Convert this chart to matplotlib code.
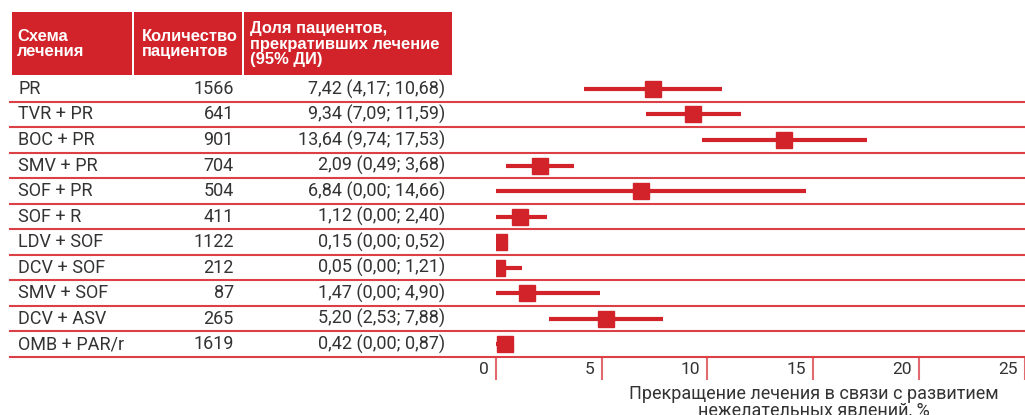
import matplotlib.pyplot as plt
import matplotlib.transforms as mtransforms
from matplotlib.patches import Rectangle
import numpy as np

# Discontinuation due to adverse events, by treatment regimen
regimens = ['PR', 'TVR + PR', 'BOC + PR', 'SMV + PR', 'SOF + PR', 'SOF + R',
            'LDV + SOF', 'DCV + SOF', 'SMV + SOF', 'DCV + ASV', 'OMB + PAR/r']
patients = [1566, 641, 901, 704, 504, 411, 1122, 212, 87, 265, 1619]
rate = [7.42, 9.34, 13.64, 2.09, 6.84, 1.12, 0.15, 0.05, 1.47, 5.20, 0.42]
ci_low = [4.17, 7.09, 9.74, 0.49, 0.00, 0.00, 0.00, 0.00, 0.00, 2.53, 0.00]
ci_high = [10.68, 11.59, 17.53, 3.68, 14.66, 2.40, 0.52, 1.21, 4.90, 7.88, 0.87]
xticks = [0, 5, 10, 15, 20, 25]

headers = ['Схема\nлечения', 'Количество\nпациентов',
           'Доля пациентов,\nпрекративших лечение\n(95% ДИ)']
xlabel = 'Прекращение лечения в связи с развитием\nнежелательных явлений, %'

red = '#d2232a'
line_red = '#dc4046'
tick_red = '#e06a6f'
txt = '#333333'

W, H = 1025, 415
fig = plt.figure(figsize=(W / 100, H / 100), dpi=100)
plt.rcParams['font.family'] = ['Roboto', 'DejaVu Sans']

ax = fig.add_axes([496 / W, 1 - 357 / H, 528.5 / W, 280.8 / H])
n = len(regimens)
y = np.arange(n) + 0.5
ax.set_xlim(0, 25)
ax.set_ylim(n, 0)
for s in ax.spines.values():
    s.set_visible(False)
ax.set_yticks([])
ax.set_xticks(xticks)
ax.tick_params(axis='x', length=16.6, width=1.5, color=tick_red, labelbottom=False)

# confidence intervals and point estimates
ax.hlines(y, ci_low, ci_high, color=red, lw=3)
ax.plot(rate, y, 's', ms=11, color=red)

# row separators across the whole width
trans = mtransforms.blended_transform_factory(fig.transFigure, ax.transData)
for k in range(1, n + 1):
    ax.plot([10 / W, 1], [k, k], transform=trans, clip_on=False,
            color=line_red, lw=1.5)

# table text
for i in range(n):
    ax.text(18 / W, y[i], regimens[i], transform=trans, ha='left', va='center',
            fontsize=13, color=txt)
    ax.text(234 / W, y[i], str(patients[i]), transform=trans, ha='right',
            va='center', fontsize=13, color=txt)
    s = f'{rate[i]:.2f} ({ci_low[i]:.2f}; {ci_high[i]:.2f})'.replace('.', ',')
    ax.text(445 / W, y[i], s, transform=trans, ha='right', va='center',
            fontsize=13, color=txt)

# tick labels sit to the left of each tick
lab_tr = mtransforms.offset_copy(ax.transData, fig=fig, x=-7, y=-12, units='dots')
for t in xticks:
    ax.text(t, n, str(t), transform=lab_tr, ha='right', va='center',
            fontsize=12.5, color=txt)

fig.text(813.5 / W, 1 - 385 / H, xlabel, ha='center', va='top', fontsize=13,
         color=txt, linespacing=0.9)

# header block
cells = [(12, 132), (134, 242), (244, 452)]
text_x = [17, 142, 250]
for (x0, x1), tx, h in zip(cells, text_x, headers):
    fig.add_artist(Rectangle((x0 / W, 1 - 75 / H), (x1 - x0) / W, 63 / H,
                             transform=fig.transFigure, color=red, lw=0))
    fig.text(tx / W, 1 - 44 / H, h, ha='left', va='center', color='white',
             fontsize=11.9, fontweight='bold', family='Liberation Sans',
             linespacing=1.02)

fig.savefig('out.png', dpi=100)
